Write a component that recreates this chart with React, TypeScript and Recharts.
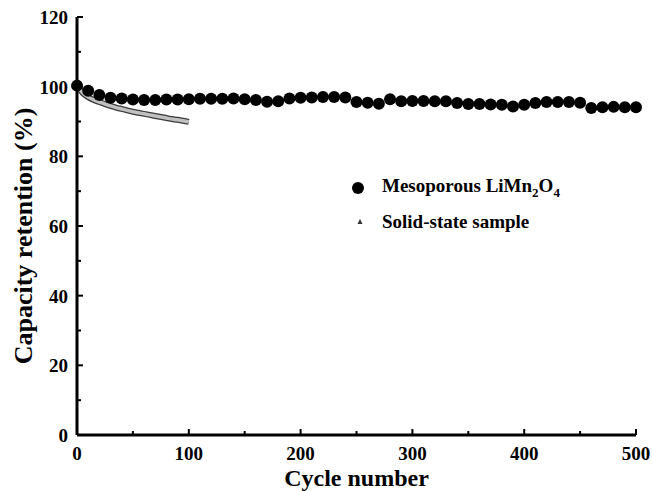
import { ComposedChart, Scatter, Line, XAxis, YAxis, Legend } from 'recharts'

const FONT = '"Liberation Serif", "Times New Roman", serif'

// cycles for the mesoporous LiMn2O4 markers
const mesoCycles = [
  0, 10, 20, 30, 40, 50, 60, 70, 80, 90,
  100, 110, 120, 130, 140, 150, 160, 170, 180, 190,
  200, 210, 220, 230, 240, 250, 260, 270, 280, 290,
  300, 310, 320, 330, 340, 350, 360, 370, 380, 390,
  400, 410, 420, 430, 440, 450, 460, 470, 480, 490, 500,
]
const mesoRetention = [
  100.3, 98.8, 97.6, 96.8, 96.6, 96.3, 96.2, 96.2, 96.3, 96.3,
  96.4, 96.5, 96.5, 96.5, 96.6, 96.4, 96.2, 95.7, 95.8, 96.6,
  96.8, 96.9, 97.0, 97.0, 96.9, 95.6, 95.4, 95.1, 96.4, 95.8,
  95.9, 95.9, 95.8, 95.8, 95.3, 95.0, 95.0, 94.9, 94.8, 94.3,
  94.8, 95.3, 95.6, 95.6, 95.6, 95.4, 93.9, 94.1, 94.2, 94.1, 94.1,
]

const solidCycles = [0, 5, 10, 15, 20, 25, 30, 35, 40, 45, 50, 55, 60, 65, 70, 75, 80, 85, 90, 95, 100]
const solidRetention = [
  100.5, 98.2, 97.0, 96.2, 95.6, 95.0, 94.5, 94.0, 93.6, 93.2,
  92.8, 92.5, 92.2, 91.9, 91.6, 91.3, 91.0, 90.7, 90.5, 90.2, 89.9,
]

const xTicks = [0, 50, 100, 150, 200, 250, 300, 350, 400, 450, 500]
const yTicks = [0, 10, 20, 30, 40, 50, 60, 70, 80, 90, 100, 110, 120]

const mesoData = mesoCycles.map((c, i) => ({ cycle: c, value: mesoRetention[i] }))
const solidData = solidCycles.map((c, i) => ({ cycle: c, value: solidRetention[i] }))

const BottomTick = (props: any) => {
  const { x, y, payload } = props
  const major = payload.value % 100 === 0
  return (
    <g>
      <line x1={x} x2={x} y1={y} y2={y - (major ? 6 : 4)} stroke="#000" strokeWidth={2} />
      {major && (
        <text x={x} y={y + 25} textAnchor="middle" fontFamily={FONT} fontWeight="bold" fontSize={19} fill="#000">
          {payload.value}
        </text>
      )}
    </g>
  )
}

const TopTick = (props: any) => {
  const { x, y, payload } = props
  const major = payload.value % 100 === 0
  return <line x1={x} x2={x} y1={y} y2={y + (major ? 6 : 4)} stroke="#000" strokeWidth={2} />
}

const LeftTick = (props: any) => {
  const { x, y, payload } = props
  const major = payload.value % 20 === 0
  return (
    <g>
      <line x1={x} x2={x + (major ? 6 : 4)} y1={y} y2={y} stroke="#000" strokeWidth={2} />
      {major && (
        <text x={x - 9} y={y + 7} textAnchor="end" fontFamily={FONT} fontWeight="bold" fontSize={19} fill="#000">
          {payload.value}
        </text>
      )}
    </g>
  )
}

const RightTick = (props: any) => {
  const { x, y, payload } = props
  const major = payload.value % 20 === 0
  return <line x1={x} x2={x - (major ? 6 : 4)} y1={y} y2={y} stroke="#000" strokeWidth={2} />
}

const Dot = (props: any) => <circle cx={props.cx} cy={props.cy} r={6} fill="#000" />

const renderLegend = () => (
  <div style={{ fontFamily: FONT, fontWeight: 'bold', fontSize: 19, color: '#000' }}>
    <div style={{ display: 'flex', alignItems: 'center', height: 34 }}>
      <svg width={31} height={14}>
        <circle cx={7} cy={7} r={6} fill="#000" />
      </svg>
      <span>
        Mesoporous LiMn<sub style={{ fontSize: 13 }}>2</sub>O<sub style={{ fontSize: 13 }}>4</sub>
      </span>
    </div>
    <div style={{ display: 'flex', alignItems: 'center', height: 34 }}>
      <svg width={31} height={14}>
        <polygon points="9,4 11.5,9 6.5,9" fill="#333" />
      </svg>
      <span>Solid-state sample</span>
    </div>
  </div>
)

const XTitle = (props: any) => {
  const { viewBox } = props
  return (
    <text x={viewBox.x + viewBox.width / 2} y={486} textAnchor="middle" fontFamily={FONT} fontWeight="bold" fontSize={24} fill="#000">
      Cycle number
    </text>
  )
}

const YTitle = (props: any) => {
  const { viewBox } = props
  const cy = viewBox.y + viewBox.height / 2 + 10
  return (
    <text x={32} y={cy} transform={`rotate(-90 32 ${cy})`} textAnchor="middle" fontFamily={FONT} fontWeight="bold" fontSize={26} fill="#000">
      Capacity retention (%)
    </text>
  )
}

export default function App() {
  return (
    <div style={{ position: 'absolute', left: 0, top: 0, width: 652, height: 491, overflow: 'hidden' }}>
      <ComposedChart width={652} height={491} margin={{ top: 17, right: 16, left: 0, bottom: 0 }}>
        <XAxis
          dataKey="cycle"
          type="number"
          domain={[0, 500]}
          ticks={xTicks}
          interval={0}
          height={56}
          tickSize={0}
          tickMargin={0}
          tick={<BottomTick />}
          axisLine={{ stroke: '#000', strokeWidth: 3 }}
          label={<XTitle />}
        />
        <XAxis
          xAxisId="top"
          orientation="top"
          type="number"
          domain={[0, 500]}
          ticks={xTicks}
          interval={0}
          height={0}
          tickSize={0}
          tickMargin={0}
          tick={<TopTick />}
          axisLine={{ stroke: '#000', strokeWidth: 3 }}
        />
        <YAxis
          type="number"
          domain={[0, 120]}
          ticks={yTicks}
          interval={0}
          width={77}
          tickSize={0}
          tickMargin={0}
          tick={<LeftTick />}
          axisLine={{ stroke: '#000', strokeWidth: 3 }}
          label={<YTitle />}
        />
        <YAxis
          yAxisId="right"
          orientation="right"
          type="number"
          domain={[0, 120]}
          ticks={yTicks}
          interval={0}
          width={0}
          tickSize={0}
          tickMargin={0}
          tick={<RightTick />}
          axisLine={{ stroke: '#000', strokeWidth: 3 }}
        />
        <Line
          data={solidData}
          dataKey="value"
          type="monotone"
          stroke="#3a3a3a"
          strokeWidth={6}
          dot={false}
          isAnimationActive={false}
          legendType="none"
        />
        <Line
          data={solidData}
          dataKey="value"
          type="monotone"
          stroke="#c0c0c0"
          strokeWidth={3.5}
          dot={false}
          isAnimationActive={false}
          legendType="none"
        />
        <Scatter data={mesoData} dataKey="value" shape={<Dot />} isAnimationActive={false} />
        <Legend
          layout="vertical"
          align="center"
          verticalAlign="middle"
          content={renderLegend}
          wrapperStyle={{ position: 'absolute', left: 351, top: 171, width: 290 }}
        />
      </ComposedChart>
    </div>
  )
}
